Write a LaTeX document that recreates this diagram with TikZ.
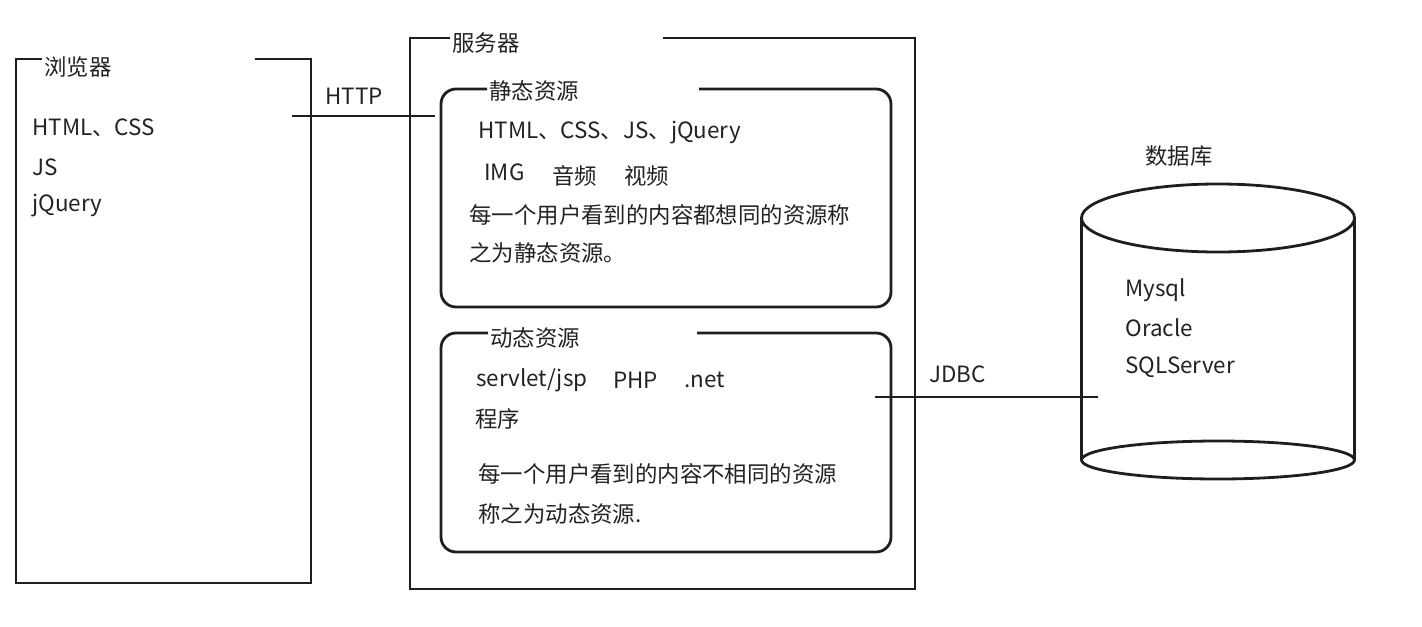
\documentclass[tikz,border=0pt]{standalone}
\usepackage{fontspec}
\setmainfont{Noto Sans CJK SC}
\definecolor{ink}{HTML}{1E1E1E}
\definecolor{txt}{HTML}{222222}
\begin{document}
\begin{tikzpicture}[x=0.5pt,y=-0.5pt,
  line/.style={draw=ink,line width=1.4pt},
  lbl/.style={anchor=west,inner sep=0pt,text=txt,font=\fontsize{11.2}{13}\selectfont},
  rbox/.style={draw=ink,line width=1.4pt,rounded corners=7.5pt}]
\useasboundingbox (0,0) rectangle (1422,626);
% browser box
\draw[line] (42,59) -- (16,59) -- (16,583) -- (311,583) -- (311,59) -- (255,59);
\node[lbl] (bt) at (44,67) {浏览器};
\node[lbl] (b1) at (32,128) {HTML、CSS};
\node[lbl] (b2) at (32,167) {JS};
\node[lbl] (b3) at (32,206) {jQuery};
% server box
\draw[line] (450,38) -- (410,38) -- (410,589) -- (915,589) -- (915,38) -- (663,38);
\node[lbl] (st) at (452,43) {服务器};
% static resources
\draw[rbox] (487,89) -- (441,89) -- (441,307) -- (891,307) -- (891,89) -- (699,89);
\node[lbl] (sst) at (489,91) {静态资源};
\node[lbl] (s1) at (478,133) {HTML、CSS、JS、jQuery};
\node[lbl] (s2) at (484,172) {IMG};
\node[lbl] (s3) at (552,176) {音频};
\node[lbl] (s4) at (624,176) {视频};
\node[lbl] (s5) at (469,215) {每一个用户看到的内容都想同的资源称};
\node[lbl] (s6) at (469,253) {之为静态资源。};
% dynamic resources
\draw[rbox] (488,333) -- (441,333) -- (441,552) -- (891,552) -- (891,333) -- (697,333);
\node[lbl] (dt) at (490,338) {动态资源};
\node[lbl] (d1) at (476,380) {servlet/jsp};
\node[lbl] (d2) at (613,380) {PHP};
\node[lbl] (d3) at (684,380) {.net};
\node[lbl] (d4) at (475,419) {程序};
\node[lbl] (d5) at (478,474) {每一个用户看到的内容不相同的资源};
\node[lbl] (d6) at (478,514) {称之为动态资源.};
% database
\node[lbl] (dbt) at (1145,156) {数据库};
\draw[line] (1218,218) ellipse [x radius=136.5, y radius=34];
\draw[line] (1081.5,218) -- (1081.5,460);
\draw[line] (1354.5,218) -- (1354.5,460);
\draw[line] (1218,460) ellipse [x radius=136.5, y radius=19];
\node[lbl] (m1) at (1125,290) {Mysql};
\node[lbl] (m2) at (1125,328) {Oracle};
\node[lbl] (m3) at (1125,367) {SQLServer};
% connectors
\coordinate (h1) at (292,116);
\coordinate (h2) at (435,116);
\draw[line] (h1) -- (h2);
\node[lbl] (http) at (325,96) {HTTP};
\coordinate (j1) at (875,397);
\coordinate (j2) at (1098,397);
\draw[line] (j1) -- (j2);
\node[lbl] (jdbc) at (929,374) {JDBC};
\end{tikzpicture}
\end{document}
